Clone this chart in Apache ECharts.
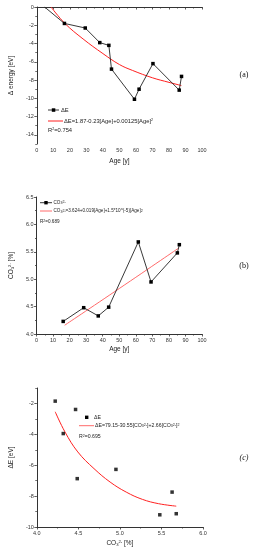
<!DOCTYPE html>
<html><head><meta charset="utf-8">
<script src="https://cdn.jsdelivr.net/npm/echarts@6/dist/echarts.min.js"></script>
<style>html,body{margin:0;padding:0;background:#fff}#c{width:255px;height:550px}</style>
</head><body><div id="c"></div>
<script>
// Panel (a): Δ energy vs Age
const ageA = [4.7, 16.7, 29.3, 38.1, 43.6, 45.2, 59.1, 61.9, 70.3, 86.2, 87.6];
const dEA = [0, -1.8, -2.3, -3.9, -4.2, -6.8, -10.1, -9.0, -6.2, -9.1, -7.6];
const fitAgeA = [8.6, 17, 28, 40, 50, 58, 70, 80, 87.5];
const fitEA = [0, -1.8, -3.5, -5.1, -6.3, -6.95, -7.75, -8.25, -8.6];
// Panel (b): CO3 vs Age
const ageB = [16.1, 28.5, 37.3, 43.6, 61.5, 69.2, 85.1, 86.3];
const co3B = [4.23, 4.48, 4.33, 4.49, 5.68, 4.95, 5.48, 5.63];
const fitAgeB = [17, 50, 86];
const fitCo3B = [4.16, 4.83, 5.57];
// Panel (c): ΔE vs CO3
const co3C = [4.221, 4.318, 4.466, 4.486, 4.952, 5.48, 5.628, 5.678];
const dEC = [-1.85, -3.95, -2.39, -6.87, -6.27, -9.21, -7.74, -9.14];
const fitCo3C = [4.221, 4.338, 4.493, 4.688, 4.882, 5.076, 5.27, 5.465, 5.678];
const fitEC = [-2.54, -3.84, -5.14, -6.22, -7.09, -7.74, -8.21, -8.49, -8.65];
// Tick values
const aYTicks = [-14, -12, -10, -8, -6, -4, -2, 0];
const aYMinor = [-15, -13, -11, -9, -7, -5, -3, -1];
const cYTicks = [-10, -8, -6, -4, -2];
const cYMinor = [-9, -7, -5, -3, -1];

const FONT = 'Liberation Sans';
const AX = '#333';
const zip = (a, b) => a.map((v, i) => [v, b[i]]);
const rich = {
  sub: {fontSize: 3.6, fontFamily: FONT, color: '#222', verticalAlign: 'bottom'},
  sup: {fontSize: 3.6, fontFamily: FONT, color: '#222', verticalAlign: 'top'}
};
function baseAxis(extra) {
  return Object.assign({
    type: 'value',
    axisLine: {show: true, lineStyle: {color: AX, width: 1}},
    axisTick: {show: true, inside: false, length: 2.5, lineStyle: {color: AX, width: 0.8}},
    minorTick: {show: true, splitNumber: 2, length: 1.5, lineStyle: {color: AX, width: 0.8}},
    axisLabel: {fontSize: 5.5, fontFamily: FONT, color: '#333', margin: 3},
    splitLine: {show: false},
    nameTextStyle: {fontSize: 6.5, fontFamily: FONT, color: '#222', rich: {
      sub: {fontSize: 4.2, fontFamily: FONT, color: '#222', verticalAlign: 'bottom'},
      sup: {fontSize: 4.2, fontFamily: FONT, color: '#222', verticalAlign: 'top'}
    }}
  }, extra);
}
function minorAxis(grid, min, max, vals) {
  return {
    type: 'value', gridIndex: grid, min: min, max: max, position: 'left',
    axisLine: {show: false}, splitLine: {show: false},
    axisLabel: {show: false},
    axisTick: {show: true, length: 1.5, customValues: vals, lineStyle: {color: AX, width: 0.8}}
  };
}

const chart = echarts.init(document.getElementById('c'), null, {renderer: 'canvas'});
const option = {
  animation: false,
  grid: [
    {left: 32, top: 7, width: 170, height: 137},
    {left: 32, top: 197, width: 170, height: 137},
    {left: 31, top: 388, width: 172, height: 139}
  ],
  xAxis: [
    baseAxis({gridIndex: 0, min: 0, max: 100, interval: 10, name: 'Age [y]', nameLocation: 'middle', nameGap: 14}),
    baseAxis({gridIndex: 1, min: 0, max: 100, interval: 10, name: 'Age [y]', nameLocation: 'middle', nameGap: 12}),
    baseAxis({gridIndex: 2, min: 4.0, max: 6.0, interval: 0.5, name: 'CO{sub|3}{sup|2-} [%]', nameLocation: 'middle', nameGap: 13,
      axisLabel: {fontSize: 5.5, fontFamily: FONT, color: '#333', margin: 3, formatter: v => v.toFixed(1)}})
  ],
  yAxis: [
    baseAxis({gridIndex: 0, min: -15, max: 0, name: 'Δ energy [eV]', nameLocation: 'middle', nameGap: 20, nameRotate: 90,
      axisLabel: {fontSize: 5.5, fontFamily: FONT, color: '#333', margin: 3, customValues: aYTicks},
      axisTick: {show: true, length: 2.5, customValues: aYTicks, lineStyle: {color: AX, width: 0.8}},
      minorTick: {show: false}}),
    minorAxis(0, -15, 0, aYMinor),
    baseAxis({gridIndex: 1, min: 4.0, max: 6.5, interval: 0.5, name: 'CO{sub|3}{sup|2-} [%]', nameLocation: 'middle', nameGap: 19, nameRotate: 90,
      axisLabel: {fontSize: 5.5, fontFamily: FONT, color: '#333', margin: 3, formatter: v => v.toFixed(1)}}),
    baseAxis({gridIndex: 2, min: -10, max: -1, name: 'ΔE [eV]', nameLocation: 'middle', nameGap: 17, nameRotate: 90,
      axisLabel: {fontSize: 5.5, fontFamily: FONT, color: '#333', margin: 3, customValues: cYTicks},
      axisTick: {show: true, length: 2.5, customValues: cYTicks, lineStyle: {color: AX, width: 0.8}},
      minorTick: {show: false}}),
    minorAxis(2, -10, -1, cYMinor)
  ],
  series: [
    {type: 'line', xAxisIndex: 0, yAxisIndex: 0, smooth: 0.4, symbol: 'none',
      lineStyle: {color: '#ff2020', width: 1}, data: zip(fitAgeA, fitEA), z: 3},
    {type: 'line', xAxisIndex: 0, yAxisIndex: 0, symbol: 'rect', symbolSize: 3.5,
      lineStyle: {color: '#222', width: 0.9}, itemStyle: {color: '#000'},
      data: zip(ageA, dEA).map((p, i) => i === 0 ? {value: p, symbol: 'none'} : p), z: 4},
    {type: 'line', xAxisIndex: 1, yAxisIndex: 2, smooth: true, symbol: 'none',
      lineStyle: {color: '#ff6a6a', width: 1}, data: zip(fitAgeB, fitCo3B), z: 3},
    {type: 'line', xAxisIndex: 1, yAxisIndex: 2, symbol: 'rect', symbolSize: 3.5,
      lineStyle: {color: '#222', width: 0.9}, itemStyle: {color: '#000'},
      data: zip(ageB, co3B), z: 4},
    {type: 'line', xAxisIndex: 2, yAxisIndex: 3, smooth: 0.4, symbol: 'none',
      lineStyle: {color: '#ff2020', width: 1}, data: zip(fitCo3C, fitEC), z: 3},
    {type: 'scatter', xAxisIndex: 2, yAxisIndex: 3, symbol: 'rect', symbolSize: 3.5,
      itemStyle: {color: '#000'}, data: zip(co3C, dEC), z: 4}
  ],
  graphic: [
    {type: 'line', shape: {x1: 48, y1: 110, x2: 59, y2: 110}, style: {stroke: '#222', lineWidth: 0.9}},
    {type: 'rect', shape: {x: 51.8, y: 108.3, width: 3.5, height: 3.5}, style: {fill: '#000'}},
    {type: 'text', x: 61, y: 110, style: {text: 'ΔE', font: '5.8px "Liberation Sans"', fill: '#222', verticalAlign: 'middle'}},
    {type: 'line', shape: {x1: 48, y1: 121, x2: 63, y2: 121}, style: {stroke: '#ff2020', lineWidth: 1}},
    {type: 'text', x: 64, y: 121, style: {text: 'ΔE=1.87-0.23[Age]+0.00125[Age]{sup|2}', font: '5.8px "Liberation Sans"', fill: '#222', verticalAlign: 'middle', rich: rich}},
    {type: 'text', x: 48, y: 130, style: {text: 'R{sup|2}=0.754', font: '5.8px "Liberation Sans"', fill: '#222', verticalAlign: 'middle', rich: rich}},
    {type: 'line', shape: {x1: 40, y1: 202.7, x2: 52, y2: 202.7}, style: {stroke: '#222', lineWidth: 0.9}},
    {type: 'rect', shape: {x: 44.3, y: 201, width: 3.4, height: 3.4}, style: {fill: '#000'}},
    {type: 'text', x: 53.5, y: 202.7, style: {text: 'CO{sub|3}{sup|2-}', font: '4.6px "Liberation Sans"', fill: '#222', verticalAlign: 'middle', rich: rich}},
    {type: 'line', shape: {x1: 40, y1: 211, x2: 52, y2: 211}, style: {stroke: '#ff6a6a', lineWidth: 1}},
    {type: 'text', x: 53.5, y: 211, style: {text: 'CO{sub|3}{sup|2-}=3.624+0.019[Age]+1.5*10^(-5)[Age]{sup|2}', font: '4.6px "Liberation Sans"', fill: '#222', verticalAlign: 'middle', rich: rich}},
    {type: 'text', x: 40, y: 221.5, style: {text: 'R{sup|2}=0.689', font: '4.6px "Liberation Sans"', fill: '#222', verticalAlign: 'middle', rich: rich}},
    {type: 'rect', shape: {x: 85, y: 415.6, width: 3.4, height: 3.4}, style: {fill: '#000'}},
    {type: 'text', x: 94, y: 417.3, style: {text: 'ΔE', font: '5.2px "Liberation Sans"', fill: '#222', verticalAlign: 'middle'}},
    {type: 'line', shape: {x1: 79, y1: 425.7, x2: 94, y2: 425.7}, style: {stroke: '#ff6a6a', lineWidth: 1}},
    {type: 'text', x: 95, y: 425.7, style: {text: 'ΔE=79.15-30.55[CO{sub|3}{sup|2-}]+2.66[CO{sub|3}{sup|2-}]{sup|2}', font: '5.2px "Liberation Sans"', fill: '#222', verticalAlign: 'middle', rich: rich}},
    {type: 'text', x: 79, y: 436.5, style: {text: 'R{sup|2}=0.695', font: '5.2px "Liberation Sans"', fill: '#222', verticalAlign: 'middle', rich: rich}},
    {type: 'text', x: 244, y: 75, style: {text: '(a)', font: '8px "Liberation Serif"', fill: '#111', align: 'center', verticalAlign: 'middle'}},
    {type: 'text', x: 244, y: 266, style: {text: '(b)', font: '8px "Liberation Serif"', fill: '#111', align: 'center', verticalAlign: 'middle'}},
    {type: 'text', x: 244, y: 458, style: {text: '(c)', font: 'italic 8px "Liberation Serif"', fill: '#111', align: 'center', verticalAlign: 'middle'}}
  ]
};
chart.setOption(option);
</script></body></html>
